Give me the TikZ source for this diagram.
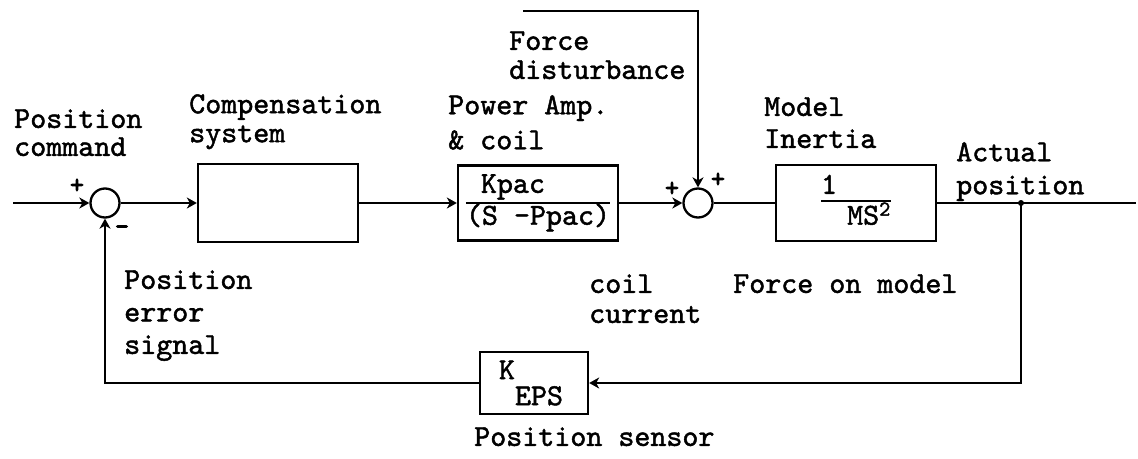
\documentclass[tikz,border=0pt]{standalone}
\usepackage{fontspec}
\newfontfamily\typer{lmmono10-regular}[Extension=.otf,FakeBold=1.5]
\newfontfamily\signs{lmmono10-regular}[Extension=.otf,FakeBold=4]
\usetikzlibrary{positioning,arrows.meta}
\setlength{\arrayrulewidth}{2pt}
\newcommand{\lblfont}[1]{\typer\fontsize{30.5}{#1}\selectfont}

\begin{document}
\begin{tikzpicture}[x=1pt,y=-1pt,line width=2.5pt,
  blk/.style={draw,line width=2.3pt,inner sep=0pt,font=\lblfont{29}},
  sumj/.style={draw,circle,line width=2.3pt,minimum size=29pt,inner sep=0pt},
  lbl/.style={anchor=north west,inner sep=0pt,align=left},
  sgn/.style={inner sep=0pt,font=\signs\fontsize{26}{26}\selectfont},
  sig/.style={-{Stealth[length=10pt,width=11pt,inset=3pt]}}]
\useasboundingbox (0,0) rectangle (1138,458);
% forward path
\node[sumj] (s1) at (105,203) {};
\node[blk, minimum width=160pt, minimum height=78pt] (comp) at (278,203) {};
\node[blk, minimum width=160pt, minimum height=75pt] (amp) at (538,203)
  {\begin{tabular}{@{}l@{}}\hspace*{15pt}Kpac\\\hline (S -Ppac)\end{tabular}};
\node[sumj] (s2) at (698,203) {};
\node[blk, minimum width=160pt, minimum height=76pt] (mass) at (856,203)
  {\renewcommand{\arraystretch}{0.75}\begin{tabular}{@{}l@{}}1\\\hline\hspace*{26pt}MS\textsuperscript{2}\end{tabular}};
% feedback path
\node[blk, minimum width=108pt, minimum height=62pt, font=\lblfont{32}] (keps) at (534,383)
  {K\raisebox{-26pt}{EPS}\hspace*{6pt}};
\coordinate (in) at (13,203);
\coordinate (out) at (1136,203);
\coordinate (br) at (1021,203);
\coordinate (brd) at (1021,383);
\coordinate (fbl) at (105,383);
\coordinate (dtop) at (523,11);
\coordinate (dcor) at (698,11);
% connectors
\draw[sig] (in) -- (s1);
\draw[sig] (s1) -- (comp);
\draw[sig] (comp) -- (amp);
\draw[sig] (amp) -- (s2);
\draw (s2) -- (mass);
\draw (mass) -- (out);
\fill (br) circle (3pt);
\draw[sig] (br) -- (brd) -- (keps);
\draw[sig] (keps) -- (fbl) -- (s1);
\draw[sig] (dtop) -- (dcor) -- (s2);
% signs
\node[sgn] (p1) at (77,186) {+};
\node[sgn] (m1) at (122,230) {-};
\node[sgn] (p2) at (672,189) {+};
\node[sgn] (p3) at (718,180) {+};
% labels
\node[lbl, font=\lblfont{28}] (cmdlbl) at (13,108) {Position\\command};
\node[lbl, font=\lblfont{29}] (complbl) at (188,93) {Compensation\\system};
\node[lbl, font=\lblfont{35}] (amplbl) at (447,94) {Power Amp.\\\& coil};
\node[lbl, font=\lblfont{29}] (distlbl) at (508,30) {Force\\disturbance};
\node[lbl, font=\lblfont{32}] (inertlbl) at (763,96) {Model\\Inertia};
\node[lbl, font=\lblfont{33}] (actlbl) at (955,141) {Actual\\position};
\node[lbl, font=\lblfont{32.5}] (errlbl) at (123,269) {Position\\error\\signal};
\node[lbl, font=\lblfont{30}] (curlbl) at (588,273) {coil\\current};
\node[lbl, font=\lblfont{30}] (forcelbl) at (732,273) {Force on model};
\node[lbl, font=\lblfont{30}] (senslbl) at (473,426) {Position sensor};
\end{tikzpicture}
\end{document}
